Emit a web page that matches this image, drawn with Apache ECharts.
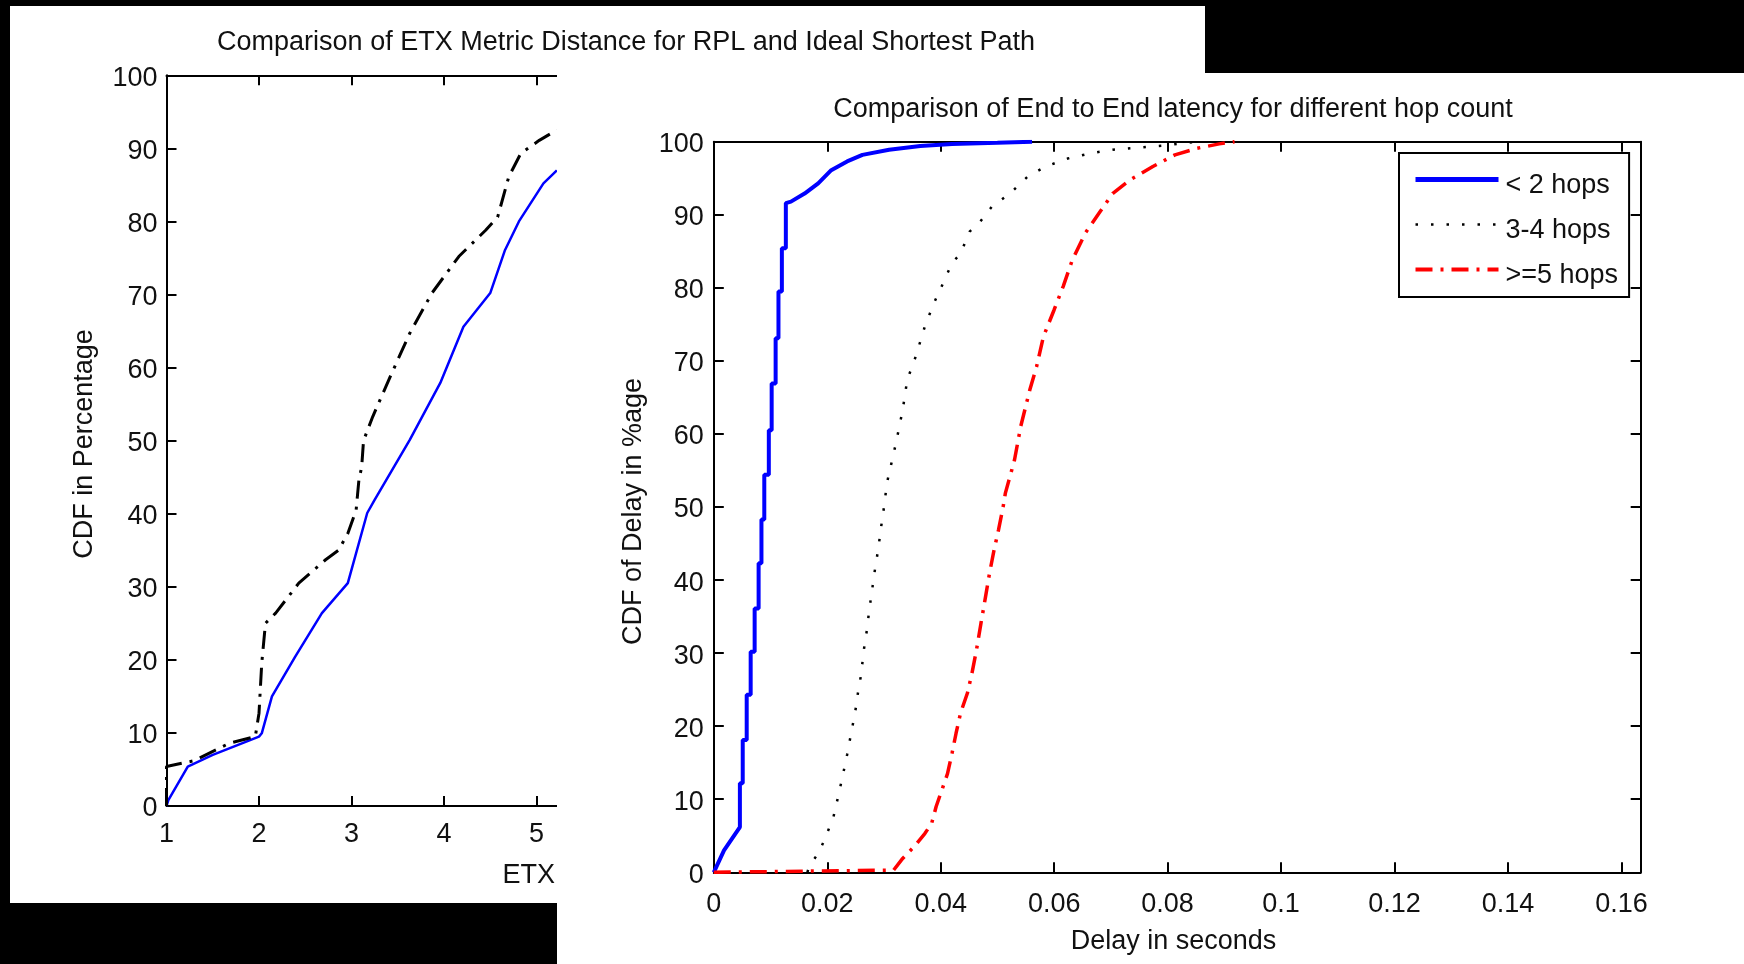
<!DOCTYPE html>
<html><head><meta charset="utf-8">
<script src="https://cdn.jsdelivr.net/npm/echarts@6/dist/echarts.min.js"></script>
<style>
html,body{margin:0;padding:0;background:#000;width:1744px;height:964px;overflow:hidden}
#left{position:absolute;left:10px;top:6px;width:1195px;height:897px;background:#fff}
#right{position:absolute;left:557px;top:73px;width:1187px;height:891px;background:#fff}
</style></head><body>
<div id="left"></div><div id="right"></div>
<script>
// ---------- Left chart data: ETX metric distance CDF ----------
const etxTicks = ['1','2','3','4','5','6','7','8','9','10'];
const pctTicks = ['0','10','20','30','40','50','60','70','80','90','100'];
const rplEtx = [1, 1.02, 1.23, 1.5, 2.0, 2.03, 2.14, 2.39, 2.68, 2.96, 3.17, 3.25, 3.63, 3.96, 4.21, 4.50, 4.66, 4.81, 5.075, 5.22];
const rplCdf = [0, 0.8, 5.4, 7.0, 9.5, 9.95, 15.0, 20.4, 26.4, 30.5, 40.1, 41.9, 50.1, 57.9, 65.6, 70.2, 76.1, 80.0, 85.2, 87.0];
const idealEtx = [1, 1, 1.0, 1.3, 1.68, 1.96, 2.0, 2.03, 2.07, 2.18, 2.43, 2.72, 2.86, 2.96, 3.05, 3.08, 3.11, 3.13, 3.23, 3.42, 3.63, 3.87, 4.16, 4.45, 4.58, 4.70, 4.83, 5.03, 5.22];
const idealCdf = [0, 3, 5.4, 6.2, 8.6, 9.5, 12.7, 19.6, 25, 26.4, 30.5, 33.7, 35, 37.3, 40.5, 44.6, 46.4, 50, 53.3, 58.8, 64.7, 70.2, 75.2, 78.8, 80.6, 86.1, 89.3, 91.1, 92.5];

// ---------- Right chart data: end-to-end delay CDF ----------
const delayTicks = ['0','0.02','0.04','0.06','0.08','0.1','0.12','0.14','0.16'];
const seriesNames = ['< 2 hops', '3-4 hops', '>=5 hops'];
const hop2Delay = [0, 0.0018, 0.0046, 0.0046, 0.0051, 0.0051, 0.0058, 0.0058, 0.0065, 0.0065, 0.0072, 0.0072, 0.0079, 0.0079, 0.0084, 0.0084, 0.0089, 0.0089, 0.0097, 0.0097, 0.0102, 0.0102, 0.0109, 0.0109, 0.0114, 0.0114, 0.0120, 0.0120, 0.0127, 0.0127, 0.0136, 0.0160, 0.0184, 0.0207, 0.0235, 0.0262, 0.0309, 0.0364, 0.0420, 0.0500, 0.0561];
const hop2Cdf   = [0, 3.0, 6.2, 12.2, 12.2, 18.1, 18.1, 24.3, 24.3, 30.2, 30.2, 36.1, 36.1, 42.3, 42.3, 48.3, 48.3, 54.4, 54.4, 60.5, 60.5, 66.9, 66.9, 73.1, 73.1, 79.5, 79.5, 85.4, 85.4, 91.6, 91.8, 92.9, 94.3, 96.1, 97.3, 98.2, 98.9, 99.4, 99.7, 99.85, 100];
const hop34Delay = [0.0165, 0.0168, 0.0184, 0.0195, 0.0211, 0.0219, 0.0227, 0.0235, 0.0242, 0.0249, 0.0254, 0.0260, 0.0264, 0.0270, 0.0274, 0.0279, 0.0284, 0.0290, 0.0295, 0.0301, 0.0305, 0.0321, 0.0333, 0.0341, 0.0356, 0.0372, 0.0388, 0.0404, 0.0420, 0.0435, 0.0451, 0.0467, 0.0490, 0.0522, 0.0553, 0.0585, 0.0624, 0.0663, 0.0703, 0.0749, 0.0797, 0.0850];
const hop34Cdf   = [0, 0.8, 2.6, 4.4, 7.6, 10.3, 13.1, 16.1, 19.0, 21.8, 24.5, 27.2, 30.2, 33.2, 35.9, 38.6, 41.4, 44.3, 47.3, 50.5, 53.2, 58.7, 63.3, 67.4, 70.6, 74.7, 77.9, 80.6, 83.4, 84.7, 87.7, 88.8, 91.1, 92.9, 95.2, 96.6, 97.7, 98.4, 98.9, 99.2, 99.5, 100];
const hop5Delay = [0, 0.0317, 0.0333, 0.0353, 0.0372, 0.0384, 0.0392, 0.0404, 0.0412, 0.0420, 0.0427, 0.0435, 0.0447, 0.0455, 0.0463, 0.0471, 0.0479, 0.0486, 0.0494, 0.0502, 0.0510, 0.0514, 0.0530, 0.0541, 0.0557, 0.0569, 0.0581, 0.0600, 0.0616, 0.0632, 0.0655, 0.0679, 0.0703, 0.0734, 0.0774, 0.0813, 0.0852, 0.0891, 0.0918];
const hop5Cdf   = [0, 0.3, 1.9, 3.5, 5.3, 6.7, 9.0, 11.7, 13.5, 16.3, 19.0, 21.8, 24.5, 27.2, 30.4, 34.1, 37.7, 40.9, 44.1, 46.9, 50.0, 51.9, 56.4, 61.0, 66.0, 69.2, 73.3, 77.0, 80.2, 83.8, 87.5, 90.2, 92.9, 94.8, 96.6, 98.2, 99.1, 99.7, 100];

const FONT = '"Liberation Sans", Arial, Helvetica, sans-serif';
const FS = 27;
const TXT = '#111';
const zip = (a, b) => a.map((v, i) => [v, b[i]]);

function axis(opts) {
  const a = {
    type: 'value', min: opts.min, max: opts.max, interval: opts.interval,
    position: opts.position,
    axisLine: { show: true, onZero: false, lineStyle: { color: '#000', width: 2 } },
    axisTick: { show: true, inside: true, length: 10, lineStyle: { color: '#000', width: 2 } },
    splitLine: { show: false },
    axisLabel: { show: !!opts.labels, fontFamily: FONT, fontSize: FS, color: TXT, margin: opts.margin || 8,
      showMaxLabel: opts.showMax !== false,
      formatter: function (v) {
        if (!opts.labels) return '';
        const k = Math.round((v - opts.min) / opts.interval);
        if (Math.abs(v - (opts.min + k * opts.interval)) > 1e-9) return '';
        const s = opts.labels[k] !== undefined ? opts.labels[k] : '';
        return opts.shift ? '{v|' + s + '}' : s;
      } }
  };
  if (opts.shift) {
    a.axisLabel.rich = { v: { fontFamily: FONT, fontSize: FS, color: TXT, padding: [opts.shift, 0, 0, 0] } };
  }
  return a;
}
function txt(x, y, s, rot) {
  return { type: 'text', x: x, y: y, rotation: rot || 0, z: 10,
    style: { text: s, font: FS + 'px ' + FONT, fill: TXT, textAlign: 'center', textVerticalAlign: 'middle' } };
}

// ---------- Left chart ----------
const left = echarts.init(document.getElementById('left'), null, { renderer: 'canvas' });
left.setOption({
  animation: false,
  backgroundColor: '#fff',
  grid: { left: 156.5, top: 69.3, width: 832.5, height: 730.7 },
  xAxis: [
    axis({ min: 1, max: 10, interval: 1, position: 'bottom', labels: etxTicks, margin: 15 }),
    axis({ min: 1, max: 10, interval: 1, position: 'top' })
  ],
  yAxis: [
    axis({ min: 0, max: 100, interval: 10, position: 'left', labels: pctTicks, margin: 9, shift: 6 }),
    axis({ min: 0, max: 100, interval: 10, position: 'right' })
  ],
  graphic: [
    txt(616, 37, 'Comparison of ETX Metric Distance for RPL and Ideal Shortest Path'),
    txt(75, 438, 'CDF in Percentage', Math.PI / 2),
    txt(518.7, 870, 'ETX')
  ],
  series: [
    { name: 'RPL', type: 'line', data: zip(rplEtx, rplCdf), showSymbol: false, symbol: 'none',
      lineStyle: { color: '#0000ff', width: 2.5 } },
    { name: 'Ideal Shortest Path', type: 'line', data: zip(idealEtx, idealCdf), showSymbol: false, symbol: 'none',
      lineStyle: { color: '#000', width: 3, type: [18, 8, 3, 8] } }
  ]
});

// ---------- Right chart ----------
const right = echarts.init(document.getElementById('right'), null, { renderer: 'canvas' });
right.setOption({
  animation: false,
  backgroundColor: '#fff',
  grid: { left: 156.8, top: 68.7, width: 926.9, height: 730.6 },
  xAxis: [
    axis({ min: 0, max: 0.1634, interval: 0.02, position: 'bottom', labels: delayTicks, margin: 19, showMax: false }),
    axis({ min: 0, max: 0.1634, interval: 0.02, position: 'top' })
  ],
  yAxis: [
    axis({ min: 0, max: 100, interval: 10, position: 'left', labels: pctTicks, margin: 10, shift: 6 }),
    axis({ min: 0, max: 100, interval: 10, position: 'right' })
  ],
  legend: {
    orient: 'vertical', left: 842, top: 80,
    padding: [7, 11, 8, 14],
    backgroundColor: '#fff', borderColor: '#000', borderWidth: 2,
    itemWidth: 83, itemHeight: 25, itemGap: 6,
    itemStyle: { opacity: 0 },
    formatter: function (name) { return '{t|' + name + '}'; },
    textStyle: { fontFamily: FONT, fontSize: FS, color: TXT,
      rich: { t: { fontFamily: FONT, fontSize: FS, color: TXT, lineHeight: 25, padding: [12, 0, 0, 2] } } },
    data: [
      { name: seriesNames[0], lineStyle: { width: 5 } },
      { name: seriesNames[1], lineStyle: { width: 2.5 } },
      { name: seriesNames[2], lineStyle: { width: 4 } }
    ]
  },
  graphic: [
    txt(616, 37, 'Comparison of End to End latency for different hop count'),
    txt(76.5, 438.5, 'CDF of Delay in %age', Math.PI / 2),
    txt(616.5, 869, 'Delay in seconds')
  ],
  series: [
    { name: seriesNames[0], type: 'line', data: zip(hop2Delay, hop2Cdf), showSymbol: false, symbol: 'none',
      lineStyle: { color: '#0000ff', width: 4 }, itemStyle: { color: '#0000ff' } },
    { name: seriesNames[1], type: 'line', data: zip(hop34Delay, hop34Cdf), showSymbol: false, symbol: 'none',
      lineStyle: { color: '#000', width: 2.5, type: [2.5, 13] }, itemStyle: { color: '#000' } },
    { name: seriesNames[2], type: 'line', data: zip(hop5Delay, hop5Cdf), showSymbol: false, symbol: 'none',
      lineStyle: { color: '#ff0000', width: 3.5, type: [17, 8, 3, 8] }, itemStyle: { color: '#ff0000' } }
  ]
});
</script>
</body></html>
